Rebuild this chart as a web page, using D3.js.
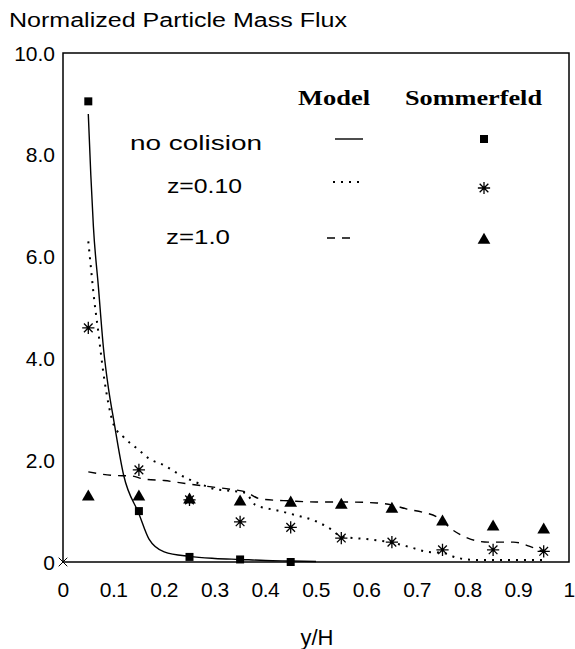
<!DOCTYPE html>
<html lang="en">
<head>
	<meta charset="utf-8">
	<title> Particle Mass Flux </title>
	<script src="https://d3js.org/d3.v7.min.js"></script>
	<style type="text/css">
		body{ margin: 0; background-color: #ffffff; }
		svg{ display: block; }
		.sans{ font-family: "Liberation Sans", Arial, sans-serif; fill: #000; }
		.serif{ font-family: "Liberation Serif", "Times New Roman", serif; font-weight: bold; fill: #000; }
	</style>
</head>

<body>
	<svg id="chart" width="575" height="649"></svg>

	<script type="text/javascript">

	// axis ticks
	var xTicks = [0, 0.1, 0.2, 0.3, 0.4, 0.5, 0.6, 0.7, 0.8, 0.9, 1]
	var xTickLabels = ["0", "0.1", "0.2", "0.3", "0.4", "0.5", "0.6", "0.7", "0.8", "0.9", "1"]
	var yTicks = [0, 2, 4, 6, 8, 10]
	var yTickLabels = ["0", "2.0", "4.0", "6.0", "8.0", "10.0"]

	// Sommerfeld measurements
	var measX = [0.05, 0.15, 0.25, 0.35, 0.45, 0.55, 0.65, 0.75, 0.85, 0.95]
	var squareVals = [9.05, 1.0, 0.1, 0.05, 0.0]
	var asteriskVals = [4.6, 1.81, 1.22, 0.79, 0.68, 0.47, 0.39, 0.24, 0.24, 0.21]
	var triangleVals = [1.28, 1.28, 1.22, 1.18, 1.16, 1.12, 1.04, 0.79, 0.69, 0.63]

	// Model curves  [y/H, flux]
	var noCollision = [[0.05, 8.8], [0.055, 7.6], [0.06, 6.6], [0.07, 5.4], [0.08, 4.2], [0.09, 3.4],
		[0.1, 2.8], [0.12, 1.7], [0.15, 0.95], [0.17, 0.45], [0.2, 0.2], [0.25, 0.11], [0.3, 0.07],
		[0.35, 0.05], [0.4, 0.03], [0.45, 0.02], [0.5, 0.01]]
	var z010 = [[0.05, 6.3], [0.055, 5.8], [0.06, 5.3], [0.07, 4.5], [0.08, 3.7], [0.09, 3.1],
		[0.1, 2.7], [0.12, 2.45], [0.15, 2.2], [0.17, 2.03], [0.2, 1.9], [0.23, 1.72], [0.25, 1.62],
		[0.28, 1.5], [0.3, 1.43], [0.33, 1.4], [0.36, 1.36], [0.38, 1.12], [0.4, 1.06], [0.42, 1.02],
		[0.46, 0.92], [0.5, 0.8], [0.53, 0.64], [0.55, 0.5], [0.6, 0.45], [0.65, 0.38], [0.69, 0.28],
		[0.72, 0.2], [0.75, 0.18], [0.78, 0.08], [0.82, 0.04], [0.9, 0.04], [0.95, 0.04]]
	var z10 = [[0.05, 1.77], [0.1, 1.7], [0.135, 1.69], [0.16, 1.63], [0.2, 1.6], [0.25, 1.53],
		[0.29, 1.48], [0.33, 1.43], [0.36, 1.38], [0.39, 1.24], [0.45, 1.2], [0.5, 1.18], [0.55, 1.18],
		[0.62, 1.16], [0.65, 1.12], [0.68, 1.04], [0.71, 0.98], [0.74, 0.88], [0.77, 0.63], [0.8, 0.47],
		[0.84, 0.39], [0.89, 0.39], [0.93, 0.28], [0.95, 0.2]]

	// legend
	var legendRows = ["no colision", "z=0.10", "z=1.0"]

	// layout
	var margin = {top: 53, left: 63, right: 6, bottom: 87}
	var W = 575, H = 649
	var width = W - margin.left - margin.right
	var height = H - margin.top - margin.bottom

	var svg = d3.select("#chart")

	var x = d3.scaleLinear().domain([0, 1]).range([margin.left, margin.left + width])
	var y = d3.scaleLinear().domain([0, 10]).range([margin.top + height, margin.top])

	// title
	svg.append("text").attr("class", "sans")
		.attr("x", 9).attr("y", 27)
		.attr("font-size", 20)
		.attr("textLength", 338).attr("lengthAdjust", "spacingAndGlyphs")
		.text("Normalized Particle Mass Flux")

	// frame
	svg.append("rect")
		.attr("x", x(0)).attr("y", y(10))
		.attr("width", x(1) - x(0)).attr("height", y(0) - y(10))
		.attr("fill", "none").attr("stroke", "#000").attr("stroke-width", 1.5)

	// y tick labels
	svg.append("g").selectAll("text")
		.data(yTicks)
		.join("text").attr("class", "sans")
		.attr("x", 55).attr("y", d => y(d) + 7.5)
		.attr("text-anchor", "end")
		.attr("font-size", 21)
		.text((d, i) => yTickLabels[i])

	// x tick labels
	svg.append("g").selectAll("text")
		.data(xTicks)
		.join("text").attr("class", "sans")
		.attr("x", d => x(d)).attr("y", 597)
		.attr("text-anchor", "middle")
		.attr("font-size", 21)
		.attr("letter-spacing", -0.5)
		.text((d, i) => xTickLabels[i])

	svg.append("text").attr("class", "sans")
		.attr("x", 317).attr("y", 645)
		.attr("text-anchor", "middle")
		.attr("font-size", 22)
		.text("y/H")

	// model lines
	var line = d3.line()
		.x(d => x(d[0]))
		.y(d => y(d[1]))
		.curve(d3.curveMonotoneX)

	var curves = [
		{data: noCollision, dash: null, w: 1.4},
		{data: z010, dash: "2,6", w: 2},
		{data: z10, dash: "8,7", w: 1.4}
	]

	svg.append("g")
		.attr("fill", "none")
		.attr("stroke", "#000")
		.selectAll("path")
		.data(curves)
		.join("path")
		.attr("stroke-width", d => d.w)
		.attr("stroke-dasharray", d => d.dash)
		.attr("d", d => line(d.data))

	// markers
	// eight-armed star like the old spreadsheet marker
	var star8 = {
		draw: function(context, size) {
			var r = Math.sqrt(size) / 2
			var k = r * Math.SQRT1_2
			context.moveTo(0, -r); context.lineTo(0, r)
			context.moveTo(-r, 0); context.lineTo(r, 0)
			context.moveTo(-k, -k); context.lineTo(k, k)
			context.moveTo(-k, k); context.lineTo(k, -k)
		}
	}
	var sqSym = d3.symbol().type(d3.symbolSquare).size(64)
	var triSym = d3.symbol().type(d3.symbolTriangle).size(70)
	var starSym = d3.symbol().type(star8).size(150)
	var crossSym = d3.symbol().type(d3.symbolX).size(50)

	svg.append("g").selectAll("path")
		.data(squareVals)
		.join("path")
		.attr("transform", (d, i) => "translate(" + x(measX[i]) + "," + y(d) + ")")
		.attr("d", sqSym)
		.attr("fill", "#000")

	svg.append("g").selectAll("path")
		.data(triangleVals)
		.join("path")
		.attr("transform", (d, i) => "translate(" + x(measX[i]) + "," + y(d) + ")")
		.attr("d", triSym)
		.attr("fill", "#000")

	svg.append("g").selectAll("path")
		.data(asteriskVals)
		.join("path")
		.attr("transform", (d, i) => "translate(" + x(measX[i]) + "," + y(d) + ")")
		.attr("d", starSym)
		.attr("fill", "none").attr("stroke", "#000").attr("stroke-width", 1.3)

	// little cross at the origin
	svg.append("path")
		.attr("transform", "translate(" + x(0) + "," + y(0) + ")")
		.attr("d", crossSym)
		.attr("fill", "none").attr("stroke", "#000").attr("stroke-width", 1)

	// legend
	svg.append("text").attr("class", "serif")
		.attr("x", 298).attr("y", 105).attr("font-size", 21)
		.attr("textLength", 72).attr("lengthAdjust", "spacingAndGlyphs")
		.text("Model")
	svg.append("text").attr("class", "serif")
		.attr("x", 405).attr("y", 105).attr("font-size", 21)
		.attr("textLength", 137).attr("lengthAdjust", "spacingAndGlyphs")
		.text("Sommerfeld")

	var legendPos = [
		{tx: 130, ty: 150, tw: 132, lx: 335, ly: 139, dash: null, w: 1.4, sym: sqSym, my: 139, fill: true},
		{tx: 167, ty: 193, tw: 75, lx: 333, ly: 182, dash: "2,6", w: 2, sym: starSym, my: 188, fill: false},
		{tx: 166, ty: 244, tw: 64, lx: 327, ly: 238, dash: "8,7", w: 1.4, sym: triSym, my: 240, fill: true}
	]

	var leg = svg.append("g").selectAll("g")
		.data(legendRows)
		.join("g")

	leg.append("text").attr("class", "sans")
		.attr("x", (d, i) => legendPos[i].tx)
		.attr("y", (d, i) => legendPos[i].ty)
		.attr("font-size", 21)
		.attr("textLength", (d, i) => legendPos[i].tw).attr("lengthAdjust", "spacingAndGlyphs")
		.text(d => d)

	leg.append("line")
		.attr("x1", (d, i) => legendPos[i].lx)
		.attr("x2", (d, i) => legendPos[i].lx + 28)
		.attr("y1", (d, i) => legendPos[i].ly)
		.attr("y2", (d, i) => legendPos[i].ly)
		.attr("stroke", "#000")
		.attr("stroke-width", (d, i) => legendPos[i].w)
		.attr("stroke-dasharray", (d, i) => legendPos[i].dash)

	leg.append("path")
		.attr("transform", (d, i) => "translate(484," + legendPos[i].my + ")")
		.attr("d", (d, i) => legendPos[i].sym())
		.attr("fill", (d, i) => legendPos[i].fill ? "#000" : "none")
		.attr("stroke", (d, i) => legendPos[i].fill ? "none" : "#000")
		.attr("stroke-width", 1.3)

	</script>
</body>
</html>
